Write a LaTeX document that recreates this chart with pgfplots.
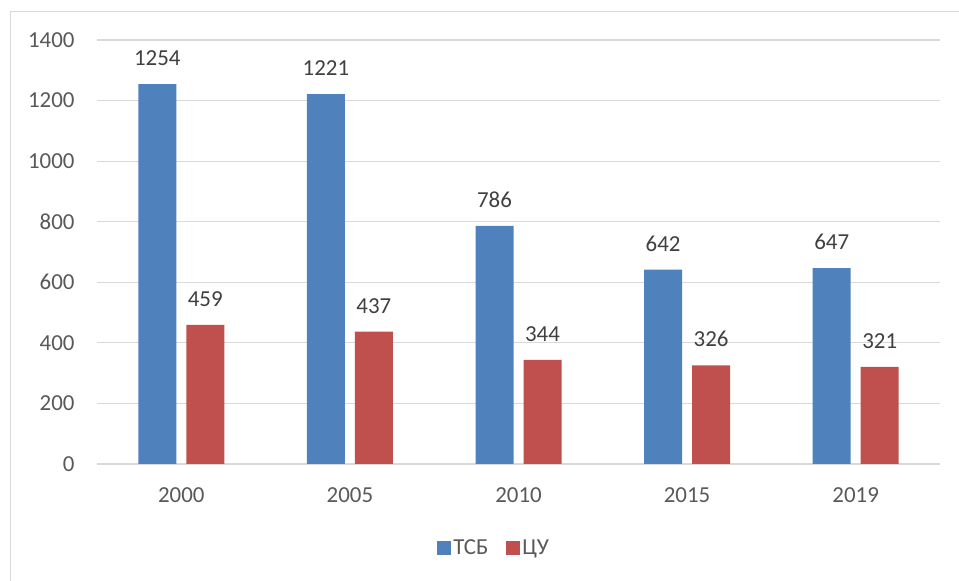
\documentclass[border=0pt]{standalone}
\usepackage{pgfplots}
\pgfplotsset{compat=1.18}
\usepackage{fontspec}
\setmainfont{Carlito}
\definecolor{cblue}{HTML}{4F81BD}
\definecolor{cred}{HTML}{C0504D}
\definecolor{cgrid}{HTML}{D9D9D9}
\definecolor{ctext}{HTML}{595959}
\definecolor{clabel}{HTML}{404040}
\definecolor{cborder}{HTML}{D9D9D9}
\begin{document}
\begin{tikzpicture}
\useasboundingbox (0,0) rectangle (959bp,581bp);
\fill[white] (0,0) rectangle (959bp,581bp);
\draw[cborder, line width=1bp] (10bp,-10bp) -- (10bp,569bp) -- (975bp,569bp);
\begin{axis}[
  at={(97bp,117bp)}, anchor=south west,
  scale only axis, width=843bp, height=424bp,
  xmin=-0.5, xmax=4.5, ymin=0, ymax=1400,
  ytick={0,200,...,1400},
  xtick={0,1,2,3,4},
  xticklabels={2000,2005,2010,2015,2019},
  ymajorgrids, grid style={cgrid, line width=1.2bp},
  axis x line*=bottom, axis y line*=left,
  y axis line style={draw=none},
  x axis line style={cgrid, line width=1.5bp, -},
  major tick length=0pt,
  tick label style={font=\fontsize{23}{27}\selectfont, text=ctext},
  /pgf/number format/assume math mode=true,
  /pgf/number format/1000 sep={},
  yticklabel style={xshift=-19bp},
  xticklabel style={yshift=-20bp},
  ybar, bar width=38bp,
  nodes near coords,
  every node near coord/.append style={font=\fontsize{23}{27}\selectfont, text=clabel, anchor=center, yshift=26bp},
  legend columns=2,
  legend style={at={(0.471,-0.198)}, anchor=center, draw=none, fill=none,
    font=\fontsize{23}{27}\selectfont, text=ctext,
    /tikz/every even column/.append style={column sep=16bp},
    /tikz/every odd column/.append style={column sep=0bp}},
  legend image code/.code={\fill[#1] (-4bp,-7bp) rectangle (10bp,7bp);},
]
\addplot[fill=cblue, draw=none, bar shift=-24bp] coordinates {(0,1254) (1,1221) (2,786) (3,642) (4,647)};
\addplot[fill=cred, draw=none, bar shift=24bp] coordinates {(0,459) (1,437) (2,344) (3,326) (4,321)};
\legend{ТСБ,ЦУ}
\end{axis}
\end{tikzpicture}
\end{document}
